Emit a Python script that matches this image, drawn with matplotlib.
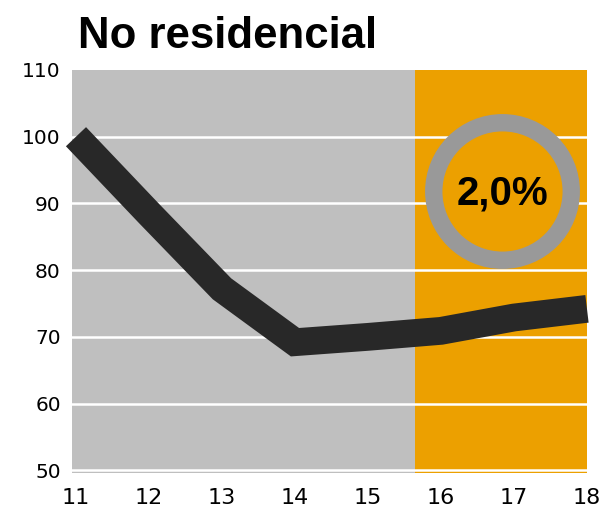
import numpy as np
import matplotlib
matplotlib.use('Agg')
import matplotlib.pyplot as plt

# Índice (2011 = 100), no residencial
years = [11, 12, 13, 14, 15, 16, 17, 18]
values = [100, 88.5, 77.2, 69.2, 70.0, 70.9, 72.9, 74.2]
y_ticks = [50, 60, 70, 80, 90, 100, 110]
forecast_start = 15.65
badge_text = '2,0%'
badge_pos = (16.84, 91.9)

GRAY_BG = '#BFBFBF'
ORANGE = '#ECA000'
RING = '#999999'
LINE = '#282828'

fig = plt.figure(figsize=(6.12, 5.15), dpi=100)
ax = fig.add_axes([0.1176, 0.0816, 0.8415, 0.7825])

ax.set_xlim(10.945, 18)
ax.set_ylim(49.6, 110)

# fondos: histórico gris, previsión naranja
ax.axvspan(10.945, forecast_start, color=GRAY_BG, zorder=0, lw=0)
ax.axvspan(forecast_start, 18, color=ORANGE, zorder=0, lw=0)

for v in y_ticks[:-1]:
    ax.axhline(v, color='white', lw=1.8, zorder=1)

ax.plot(years, values, color=LINE, lw=20, solid_capstyle='butt',
        solid_joinstyle='miter', zorder=3, clip_on=False)

# círculo con la tasa
ax.scatter([badge_pos[0]], [badge_pos[1]], s=99 ** 2, facecolor=ORANGE,
           edgecolor=RING, linewidths=12.5, zorder=4)
ax.text(badge_pos[0], badge_pos[1] - 0.4, badge_text, ha='center', va='center',
        fontsize=29, fontweight='bold',
        family=['Liberation Sans Narrow', 'Liberation Sans', 'DejaVu Sans'],
        zorder=5)

ax.set_xticks(years)
ax.set_xticklabels([str(y) for y in years], fontsize=16, family='DejaVu Sans')
ax.set_yticks(y_ticks)
ax.set_yticklabels([str(v) for v in y_ticks], fontsize=14.5, family='DejaVu Sans')
ax.tick_params(axis='x', length=0, pad=10.5)
ax.tick_params(axis='y', length=0, pad=8)
for s in ax.spines.values():
    s.set_visible(False)

fig.text(0.127, 0.907, 'No residencial', fontsize=31.5, fontweight='bold',
         family=['Liberation Sans', 'DejaVu Sans'], ha='left', va='baseline')

fig.savefig('out.png', dpi=100)
